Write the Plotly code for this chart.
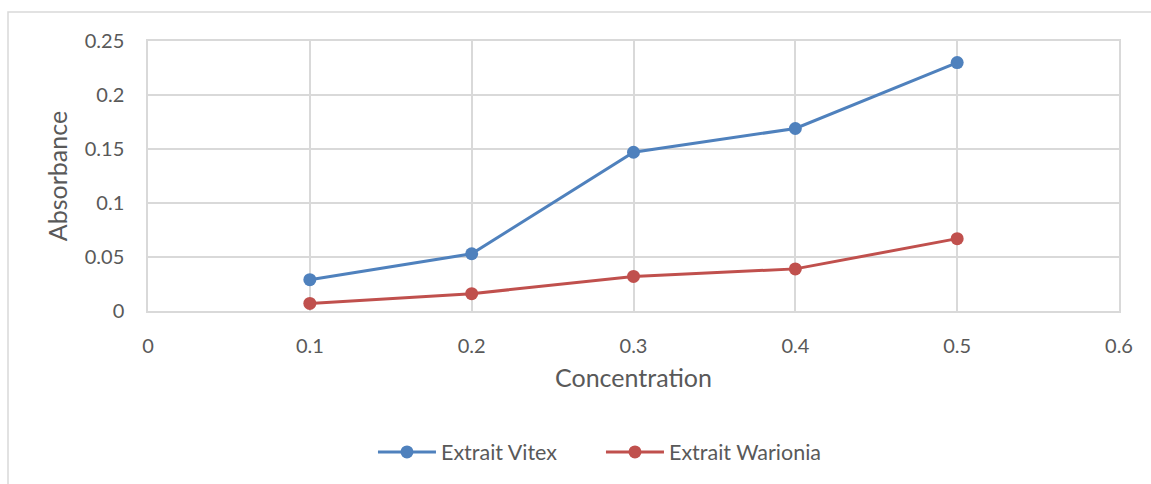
import plotly.graph_objects as go

# Concentration levels and measured absorbance for each extract
concentration = [0.1, 0.2, 0.3, 0.4, 0.5]
vitex = [0.029, 0.053, 0.147, 0.169, 0.230]
warionia = [0.007, 0.016, 0.032, 0.039, 0.067]

x_ticks = [0, 0.1, 0.2, 0.3, 0.4, 0.5, 0.6]
x_labels = ["0", "0.1", "0.2", "0.3", "0.4", "0.5", "0.6"]
y_ticks = [0, 0.05, 0.1, 0.15, 0.2, 0.25]
y_labels = ["0", "0.05", "0.1", "0.15", "0.2", "0.25"]

FONT = "Lato, 'Open Sans', sans-serif"
TEXT = "#595959"
GRID = "#d9d9d9"

fig = go.Figure()
fig.add_trace(go.Scatter(
    x=concentration, y=vitex, name="Extrait Vitex", mode="lines+markers",
    line=dict(color="#4f81bd", width=3), marker=dict(size=13, color="#4f81bd"),
))
fig.add_trace(go.Scatter(
    x=concentration, y=warionia, name="Extrait Warionia", mode="lines+markers",
    line=dict(color="#c0504d", width=3), marker=dict(size=13, color="#c0504d"),
))

fig.update_layout(
    width=1151, height=484,
    margin=dict(l=148, r=32, t=41, b=173),
    paper_bgcolor="white", plot_bgcolor="white",
    font=dict(family=FONT, color=TEXT, size=20),
    showlegend=True,
    legend=dict(orientation="h", x=0.4665, y=-0.522, xanchor="center", yanchor="middle",
                font=dict(size=21.5, color=TEXT), itemwidth=58,
                entrywidth=155, entrywidthmode="pixels"),
    xaxis=dict(
        range=[0, 0.6], tickvals=x_ticks, ticktext=x_labels,
        showgrid=True, gridcolor=GRID, gridwidth=1.5,
        showline=True, linecolor=GRID, linewidth=1.5, mirror=True,
        ticks="outside", ticklen=16, tickcolor="rgba(0,0,0,0)",
        zeroline=False, tickfont=dict(size=20),
        title=dict(text="Concentration", font=dict(size=25, color=TEXT), standoff=14),
    ),
    yaxis=dict(
        range=[0, 0.25], tickvals=y_ticks, ticktext=y_labels,
        showgrid=True, gridcolor=GRID, gridwidth=1.5,
        showline=True, linecolor=GRID, linewidth=1.5, mirror=True,
        ticks="outside", ticklen=18, tickcolor="rgba(0,0,0,0)",
        zeroline=False, tickfont=dict(size=20),
        title=dict(text="Absorbance", font=dict(size=25, color=TEXT), standoff=10),
    ),
)

# Outer chart frame
fig.add_shape(type="rect", xref="paper", yref="paper",
              x0=(8 - 148) / 971, y0=-2, x1=2, y1=(311 - 12) / 270,
              line=dict(color=GRID, width=1.5), fillcolor="rgba(0,0,0,0)", layer="below")

fig.write_html("out.html")
